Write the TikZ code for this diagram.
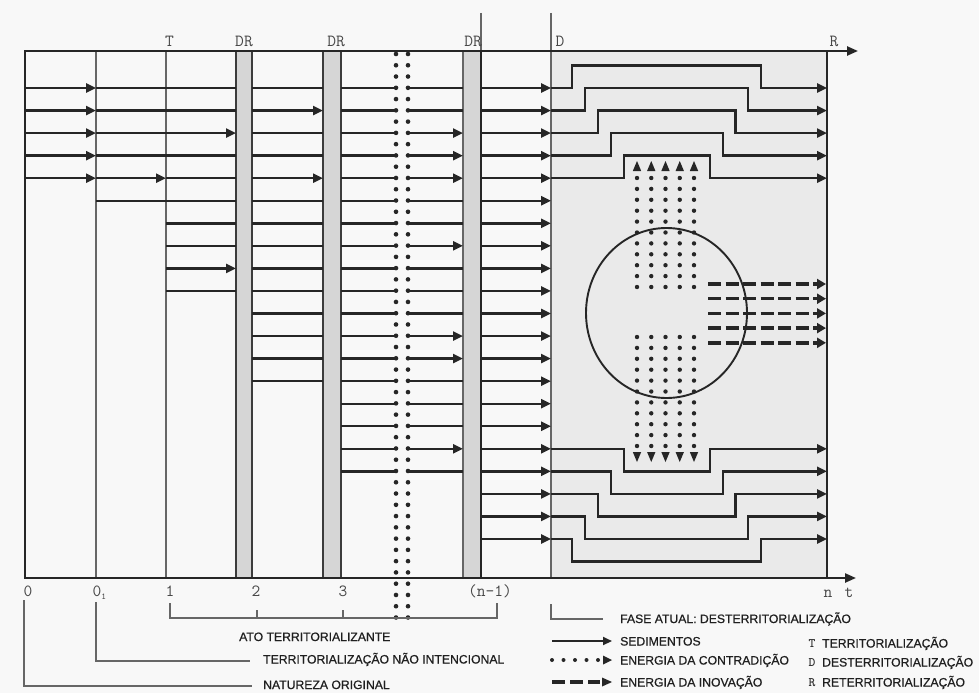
\documentclass[tikz,border=0pt]{standalone}
\usepackage{fontspec}
\newfontfamily\legfont[FakeBold=0.6]{Liberation Sans}
\usetikzlibrary{arrows.meta}
\definecolor{ink}{HTML}{262626}
\definecolor{thin}{HTML}{666666}
\definecolor{bandfill}{HTML}{D6D6D6}
\definecolor{zone}{HTML}{EAEAEA}
\definecolor{paper}{HTML}{F8F8F8}
\tikzset{
 sed/.style={line width=2.4pt, draw=ink},
 sedarr/.style={sed, -{Triangle[length=10pt,width=9pt]}},
 vthin/.style={line width=1.4pt, draw=thin},
 bandedge/.style={line width=1.9pt, draw=ink!90},
 dotcol/.style={line width=4.4pt, draw=ink, line cap=round, dash pattern=on 0pt off 10.9pt},
 middots/.style={line width=4.6pt, draw=ink, line cap=round, dash pattern=on 0pt off 11.27pt},
 dasharr/.style={line width=3.4pt, draw=ink, dash pattern=on 13pt off 4.5pt, -{Triangle[length=9pt,width=10pt]}},
 brk/.style={line width=1.4pt, draw=thin},
 lab/.style={font=\ttfamily\fontsize{17}{17}\selectfont, text=black!72, inner sep=0pt, anchor=base},
 leg/.style={font=\legfont\fontsize{12.2}{12.2}\selectfont, text=black!88, inner sep=0pt, anchor=base west},
 legkey/.style={font=\ttfamily\bfseries\fontsize{13}{13}\selectfont, text=black!80, inner sep=0pt, anchor=base},
 tri/.style={fill=ink},
}
\newcommand\rowseg[4]{\foreach \i in {#3} {\pgfmathsetmacro\yy{88+(\i-1)*22.55}\draw[#4] (#1,\yy) -- (#2,\yy);}}
\begin{document}
\begin{tikzpicture}[x=1pt,y=-1pt]
\useasboundingbox (0,0) rectangle (979,693);
\fill[paper] (0,0) rectangle (979,693);
% shaded zone D..R
\fill[zone] (551,51) rectangle (827,578);
% DR bands
\fill[bandfill] (236,51) rectangle (252,578);
\fill[bandfill] (323,51) rectangle (341,578);
\fill[bandfill] (463,51) rectangle (481,578);
\draw[bandedge] (236,51) -- (236,578);
\draw[bandedge] (252,51) -- (252,578);
\draw[bandedge] (323,51) -- (323,578);
\draw[bandedge] (341,51) -- (341,578);
\draw[vthin] (463,51) -- (463,578);
\draw[line width=2.4pt, draw=ink] (481,51) -- (481,578);
\draw[vthin] (481,13) -- (481,51);
% thin verticals
\draw[vthin] (96,51) -- (96,578);
\draw[vthin] (166,51) -- (166,578);
\draw[vthin] (551,13) -- (551,578);
% sediment segments
\rowseg{25}{96}{1,...,5}{sedarr}
\rowseg{96}{166}{1,2,3,4,6}{sed}
\rowseg{96}{166}{5}{sedarr}
\rowseg{166}{236}{1,2,4,5,6,7,8,10}{sed}
\rowseg{166}{236}{3,9}{sedarr}
\rowseg{252}{323}{1,3,4,6,7,8,9,10,11,12,13,14}{sed}
\rowseg{252}{323}{2,5}{sedarr}
\rowseg{341}{396}{1,...,18}{sed}
\rowseg{408}{463}{1,2,6,7,9,10,11,14,15,16,18}{sed}
\rowseg{408}{463}{3,4,5,8,12,13,17}{sedarr}
\rowseg{481}{551}{1,...,21}{sedarr}
% top stepped sediments
\foreach \k in {1,...,5} {
 \pgfmathsetmacro\ya{88+(\k-1)*22.55}
 \pgfmathsetmacro\yb{\ya-22.55}
 \pgfmathsetmacro\xl{572+(\k-1)*13}
 \pgfmathsetmacro\xr{761-(\k-1)*12.75}
 \draw[sedarr] (551,\ya) -- (\xl,\ya) -- (\xl,\yb) -- (\xr,\yb) -- (\xr,\ya) -- (827,\ya);
}
% bottom stepped sediments
\foreach \m in {1,...,5} {
 \pgfmathsetmacro\ya{88+(\m+15)*22.55}
 \pgfmathsetmacro\yb{\ya+22.55}
 \pgfmathsetmacro\xl{624-(\m-1)*13}
 \pgfmathsetmacro\xr{710+(\m-1)*12.75}
 \draw[sedarr] (551,\ya) -- (\xl,\ya) -- (\xl,\yb) -- (\xr,\yb) -- (\xr,\ya) -- (827,\ya);
}
% middle dotted columns
\draw[middots] (396,54) -- (396,618);
\draw[middots] (408,54) -- (408,618);
% contradiction energy columns
\foreach \c in {0,...,4} {
 \pgfmathsetmacro\xc{637+\c*14.25}
 \draw[dotcol] (\xc,178) -- (\xc,287.5);
 \fill[tri] (\xc,161) -- ({\xc-4.2},171) -- ({\xc+4.2},171) -- cycle;
 \draw[dotcol] (\xc,337) -- (\xc,446.5);
 \fill[tri] (\xc,462) -- ({\xc-4.2},452) -- ({\xc+4.2},452) -- cycle;
}
% circle
\draw[line width=1.9pt, draw=ink] (666.5,313) ellipse [x radius=80.5, y radius=85];
% innovation energy
\foreach \j in {0,...,4} {
 \pgfmathsetmacro\yd{284+\j*14.7}
 \draw[dasharr] (708,\yd) -- (826,\yd);
}
% frame
\draw[line width=2.6pt, draw=ink] (25,51) -- (25,579);
\draw[line width=2.2pt, draw=ink] (827,51) -- (827,578);
\draw[line width=2.3pt, draw=ink, -{Triangle[length=11pt,width=9pt]}] (24,51) -- (858,51);
\draw[line width=2.3pt, draw=ink, -{Triangle[length=11pt,width=9pt]}] (24,578) -- (856,578);
% top labels
\node[lab] (lT) at (169.5,47) {T};
\node[lab] (lDR1) at (244,47) {DR};
\node[lab] (lDR2) at (336,47) {DR};
\node[lab] (lDR3) at (473,47) {DR};
\node[lab] (lD) at (560,47) {D};
\node[lab] (lR) at (834,47) {R};
% bottom labels
\node[lab] (b0) at (28,596) {0};
\node[lab, anchor=base west] (b01) at (92.5,596) {0\raisebox{-3pt}{\fontsize{9}{9}\selectfont 1}};
\node[lab] (b1) at (170,596) {1};
\node[lab] (b2) at (256,596) {2};
\node[lab] (b3) at (343,596) {3};
\node[lab] (bn1) at (490,596) {(n-1)};
\node[lab] (bn) at (828,597) {n};
\node[lab] (bt) at (849,597) {t};
% brackets
\draw[brk] (24,600) -- (24,686) -- (252,686);
\draw[brk] (96,602) -- (96,661) -- (250,661);
\draw[brk] (170,603) -- (170,618) -- (497,618) -- (497,603);
\draw[brk] (257,610) -- (257,618);
\draw[brk] (343,610) -- (343,618);
\draw[brk] (551,604) -- (551,619) -- (603,619);
% legend texts
\node[leg] (tAto) at (239,641) {ATO TERRITORIALIZANTE};
\node[leg] (tNao) at (263,663.5) {TERRITORIALIZAÇÃO NÃO INTENCIONAL};
\node[leg] (tNat) at (263,689) {NATUREZA ORIGINAL};
\node[leg] (tFase) at (620,623) {FASE ATUAL: DESTERRITORIALIZAÇÃO};
\node[leg] (tSed) at (620,645.5) {SEDIMENTOS};
\node[leg] (tCon) at (620,664.5) {ENERGIA DA CONTRADIÇÃO};
\node[leg] (tIno) at (620,686.5) {ENERGIA DA INOVAÇÃO};
\node[legkey] (kT) at (812,647.5) {T};
\node[legkey] (kD) at (812,666.5) {D};
\node[legkey] (kR) at (812,686.5) {R};
\node[leg] (tT) at (822,647.5) {TERRITORIALIZAÇÃO};
\node[leg] (tD) at (822,666.5) {DESTERRITORIALIZAÇÃO};
\node[leg] (tR) at (822,686.5) {RETERRITORIALIZAÇÃO};
% legend keys
\draw[line width=2pt, draw=ink, -{Triangle[length=9pt,width=8pt]}] (552,641) -- (612,641);
\draw[dotcol, line width=4pt, dash pattern=on 0pt off 11.5pt] (552,660) -- (599,660);
\fill[tri] (612,660) -- (603,655.5) -- (603,664.5) -- cycle;
\draw[line width=3.2pt, draw=ink, dash pattern=on 13pt off 5pt] (552,682) -- (600,682);
\fill[tri] (612,682) -- (602,677.5) -- (602,686.5) -- cycle;
\end{tikzpicture}
\end{document}
